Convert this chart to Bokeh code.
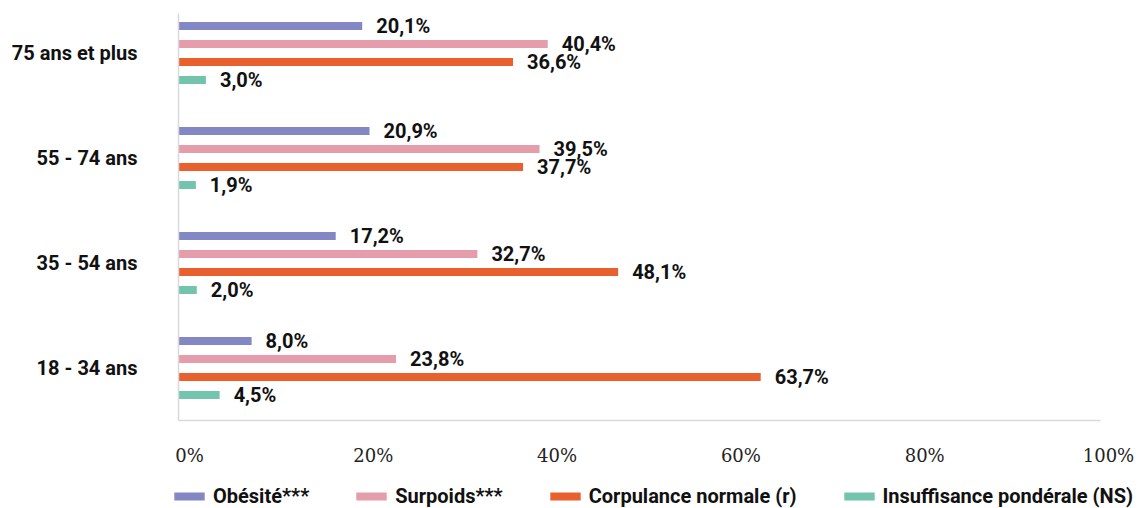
from bokeh.plotting import figure
from bokeh.models import (Range1d, LinearAxis, FixedTicker,
                          ColumnDataSource, Legend, LegendItem)
from bokeh.core.properties import value
from bokeh.transform import dodge
from bokeh.embed import file_html
from bokeh.resources import INLINE

# Age groups, bottom to top
categories = ["18 - 34 ans", "35 - 54 ans", "55 - 74 ans", "75 ans et plus"]

# Share of each BMI class per age group (%)
obesite = [8.0, 17.2, 20.9, 20.1]
surpoids = [23.8, 32.7, 39.5, 40.4]
normale = [63.7, 48.1, 37.7, 36.6]
insuffisance = [4.5, 2.0, 1.9, 3.0]

series_names = ["Obésité***", "Surpoids***", "Corpulance normale (r)",
                "Insuffisance pondérale (NS)"]
series_values = [obesite, surpoids, normale, insuffisance]
series_colors = ["#8387C3", "#E59DAB", "#E8602E", "#72C4AC"]
series_offsets = [0.257, 0.086, -0.086, -0.257]

tick_values = [0, 20, 40, 60, 80, 100]
tick_labels = ["0%", "20%", "40%", "60%", "80%", "100%"]

FONT = "Roboto"
W, H = 1148, 508
X0 = 178            # pixel column of the 0 % baseline
PX_PER_PCT = 9.14   # horizontal scale of the bars
LAB_X0 = 189        # pixel column of the "0%" scale label
LAB_PX_PER_PCT = 9.19
PX_PER_ROW = 105    # height of one age group band

n = len(categories)
cat_pos = [i + 0.5 for i in range(n)]

# The frame covers the whole canvas; axes are pinned inside it
p = figure(width=W, height=H,
           x_range=Range1d(-X0 / PX_PER_PCT, (W - X0) / PX_PER_PCT),
           y_range=Range1d(n - H / PX_PER_ROW, n),
           x_axis_location=None, y_axis_location=None,
           output_backend="svg", toolbar_location=None,
           min_border_left=0, min_border_right=0,
           min_border_top=0, min_border_bottom=0)
p.outline_line_color = None
p.xgrid.visible = False
p.ygrid.visible = False
p.background_fill_color = "white"
p.border_fill_color = "white"

p.extra_x_ranges = {"pct": Range1d(-LAB_X0 / LAB_PX_PER_PCT,
                                   (W - LAB_X0) / LAB_PX_PER_PCT)}

renderers = []
for name, vals, color, off in zip(series_names, series_values, series_colors, series_offsets):
    src = ColumnDataSource(dict(
        pos=cat_pos, val=vals,
        lab=[f"{v:.1f}%".replace(".", ",") for v in vals]))
    r = p.hbar(y=dodge("pos", off), right="val", left=0,
               height=0.076, source=src, fill_color=color, line_color=None)
    p.text(x="val", y=dodge("pos", off), text="lab", source=src,
           x_offset=14, text_align="left", text_baseline="middle",
           text_font=value(FONT), text_font_size="20px", text_font_style="bold",
           text_color="#111111")
    renderers.append((name, r))

# Baseline under the bars
base_axis = LinearAxis(ticker=FixedTicker(ticks=[]), fixed_location=0,
                       bounds=(0, 100.9))
base_axis.axis_line_color = "#d9d9d9"
base_axis.axis_line_width = 1.5
base_axis.major_tick_line_color = None
base_axis.minor_tick_line_color = None
base_axis.major_tick_out = 0
p.add_layout(base_axis, "below")

# Percentage scale labels
lab_axis = LinearAxis(x_range_name="pct", ticker=FixedTicker(ticks=tick_values),
                      fixed_location=0,
                      major_label_overrides={v: t for v, t in zip(tick_values, tick_labels)})
lab_axis.axis_line_color = None
lab_axis.major_tick_line_color = None
lab_axis.minor_tick_line_color = None
lab_axis.major_tick_out = 0
lab_axis.major_label_standoff = 24
lab_axis.major_label_text_font = "DejaVu Serif"
lab_axis.major_label_text_font_size = "18px"
lab_axis.major_label_text_color = "#222222"
p.add_layout(lab_axis, "below")

# Age group axis
ya = LinearAxis(ticker=FixedTicker(ticks=cat_pos), fixed_location=0,
                bounds=(0, n - 13 / PX_PER_ROW),
                major_label_overrides={v: c for v, c in zip(cat_pos, categories)})
ya.axis_line_color = "#d9d9d9"
ya.axis_line_width = 1.5
ya.major_tick_line_color = None
ya.minor_tick_line_color = None
ya.major_tick_out = 0
ya.major_label_standoff = 41
ya.major_label_text_font = FONT
ya.major_label_text_font_size = "20px"
ya.major_label_text_font_style = "bold"
ya.major_label_text_color = "#111111"
p.add_layout(ya, "left")

legend = Legend(items=[LegendItem(label=nm, renderers=[r]) for nm, r in renderers],
                orientation="horizontal", location=(170, 0),
                glyph_width=38, glyph_height=10, label_standoff=5, spacing=43,
                padding=0, margin=0, border_line_color=None,
                background_fill_alpha=0,
                label_text_font=FONT, label_text_font_size="20px",
                label_text_font_style="bold", label_text_color="#111111")
p.add_layout(legend, "center")

open("out.html", "w").write(file_html(p, INLINE))
